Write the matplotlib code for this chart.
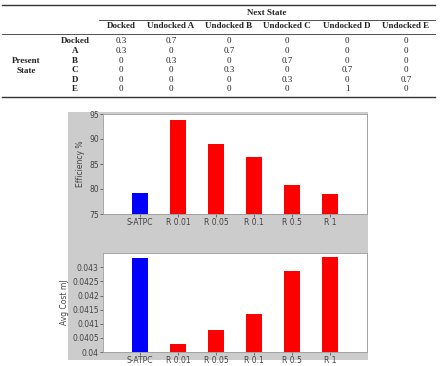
import matplotlib
matplotlib.use("Agg")
import matplotlib.pyplot as plt
from matplotlib.patches import Rectangle

# ---- data ----
next_states = ["Docked", "Undocked A", "Undocked B", "Undocked C", "Undocked D", "Undocked E"]
present_states = ["Docked", "A", "B", "C", "D", "E"]
transition = [
    ["0.3", "0.7", "0", "0", "0", "0"],
    ["0.3", "0", "0.7", "0", "0", "0"],
    ["0", "0.3", "0", "0.7", "0", "0"],
    ["0", "0", "0.3", "0", "0.7", "0"],
    ["0", "0", "0", "0.3", "0", "0.7"],
    ["0", "0", "0", "0", "1", "0"],
]
methods = ["S-ATPC", "R 0.01", "R 0.05", "R 0.1", "R 0.5", "R 1"]
efficiency = [79.2, 93.9, 89.0, 86.4, 80.9, 79.0]
avg_cost = [0.04332, 0.04030, 0.04077, 0.04133, 0.04287, 0.04338]
bar_colors = ["#0000ff", "#ff0000", "#ff0000", "#ff0000", "#ff0000", "#ff0000"]

W, H = 442, 366
fig = plt.figure(figsize=(W / 100, H / 100), dpi=100)


def fx(px):
    return px / W


def fy(py):
    return 1 - py / H


def box(x0, y0, x1, y1):
    return [fx(x0), fy(y1), fx(x1) - fx(x0), fy(y0) - fy(y1)]


# ---- table ----
serif = "Liberation Serif"
tc = "#222222"
fig.add_artist(plt.Line2D([fx(2), fx(435)], [fy(5.3)] * 2, color="#333333", lw=1.0))
fig.add_artist(plt.Line2D([fx(99), fx(435)], [fy(19.5)] * 2, color="#333333", lw=0.6))
fig.add_artist(plt.Line2D([fx(2), fx(435)], [fy(33.5)] * 2, color="#333333", lw=0.6))
fig.add_artist(plt.Line2D([fx(2), fx(435)], [fy(96.7)] * 2, color="#333333", lw=1.0))

fig.text(fx(267), fy(12.7), "Next State", ha="center", va="center",
         family=serif, fontsize=6.5, fontweight="bold", color=tc)
col_x = [121, 171, 229, 287, 347, 406]
row_y = [41, 50.7, 60.7, 70.3, 80, 89.3]
for cx, name in zip(col_x, next_states):
    fig.text(fx(cx), fy(26), name, ha="center", va="center",
             family=serif, fontsize=6.5, fontweight="bold", color=tc)
for ry, name, row in zip(row_y, present_states, transition):
    fig.text(fx(75), fy(ry), name, ha="center", va="center",
             family=serif, fontsize=6.5, fontweight="bold", color=tc)
    for cx, v in zip(col_x, row):
        fig.text(fx(cx), fy(ry), v, ha="center", va="center",
                 family=serif, fontsize=6.5, color=tc)
fig.text(fx(26), fy(61), "Present", ha="center", va="center",
         family=serif, fontsize=6.5, fontweight="bold", color=tc)
fig.text(fx(26), fy(70.7), "State", ha="center", va="center",
         family=serif, fontsize=6.5, fontweight="bold", color=tc)

# ---- gray panel behind the bar charts ----
fig.add_artist(Rectangle((fx(68), fy(360)), fx(368) - fx(68), fy(112) - fy(360),
                         transform=fig.transFigure, facecolor="#cccccc",
                         edgecolor="none", zorder=0))

xpos = list(range(1, len(methods) + 1))


def style(ax):
    ax.set_facecolor("white")
    for s in ax.spines.values():
        s.set_color("#9a9a9a")
        s.set_linewidth(0.6)
    ax.tick_params(direction="out", length=2, width=0.5, colors="#444444",
                   labelsize=5.5, pad=1)
    ax.set_xlim(0.03, 6.97)
    ax.set_xticks(xpos)
    ax.set_xticklabels(methods)


ax1 = fig.add_axes(box(103, 114, 367, 214))
ax1.bar(xpos, efficiency, width=0.4, color=bar_colors, zorder=2)
ax1.set_ylim(75, 95)
ax1.set_yticks([75, 80, 85, 90, 95])
ax1.set_ylabel("Efficiency %", fontsize=5.5, color="#444444", labelpad=3)
style(ax1)

ax2 = fig.add_axes(box(103, 253, 367, 352))
ax2.bar(xpos, avg_cost, width=0.4, color=bar_colors, zorder=2)
ax2.set_ylim(0.04, 0.04351)
ax2.set_yticks([0.04, 0.0405, 0.041, 0.0415, 0.042, 0.0425, 0.043])
ax2.set_yticklabels(["0.04", "0.0405", "0.041", "0.0415", "0.042", "0.0425", "0.043"])
ax2.set_ylabel("Avg Cost mJ", fontsize=5.5, color="#444444", labelpad=2)
style(ax2)

fig.savefig("out.png", dpi=100, facecolor="white")
